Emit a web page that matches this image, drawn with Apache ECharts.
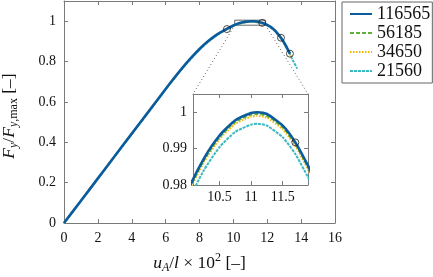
<!DOCTYPE html>
<html><head><meta charset="utf-8">
<script src="https://cdn.jsdelivr.net/npm/echarts@6/dist/echarts.min.js"></script>
<style>html,body{margin:0;padding:0;background:#fff}#c{width:433px;height:277px}</style>
</head><body><div id="c"></div>
<script>
// ---------- data ----------
const seriesNames = ['116565', '56185', '34650', '21560'];
const x116565 = [0,1,2,3,4,5,6,6.5,7,7.5,8,8.5,9,9.5,10,10.25,10.5,10.75,11,11.1,11.25,11.5,11.7,11.9,12,12.2,12.4,12.6,12.81,13,13.2,13.34];
const y116565 = [0,0.11,0.221,0.332,0.443,0.553,0.664,0.718,0.77,0.818,0.862,0.9,0.932,0.957,0.9785,0.9872,0.9936,0.9978,0.9998,1.0,0.9995,0.9963,0.9917,0.9853,0.9815,0.9715,0.958,0.94,0.918,0.893,0.862,0.839];
const x56185 = [0,1,2,3,4,5,6,6.5,7,7.5,8,8.5,9,9.5,10,10.25,10.5,10.75,11,11.1,11.25,11.5,11.7,11.9,12,12.2,12.4,12.6,12.81,13,13.2,13.34];
const y56185 = [0,0.11,0.221,0.332,0.442,0.552,0.663,0.717,0.769,0.817,0.861,0.899,0.931,0.9565,0.978,0.9867,0.9931,0.9973,0.9993,0.9995,0.999,0.9958,0.9912,0.9848,0.981,0.971,0.9575,0.9395,0.9175,0.8925,0.8615,0.8385];
const x34650 = [0,1,2,3,4,5,6,6.5,7,7.5,8,8.5,9,9.5,10,10.25,10.5,10.75,11,11.1,11.25,11.5,11.7,11.9,12,12.2,12.4,12.6,12.81,13,13.2,13.34,13.45];
const y34650 = [0,0.11,0.22,0.331,0.442,0.552,0.663,0.717,0.769,0.817,0.861,0.899,0.931,0.956,0.9775,0.9862,0.9926,0.9968,0.9988,0.999,0.9985,0.9953,0.9907,0.9843,0.9805,0.9705,0.957,0.939,0.917,0.892,0.861,0.838,0.818];
const x21560 = [0,1,2,3,4,5,6,6.5,7,7.5,8,8.5,9,9.5,10,10.25,10.5,10.75,11,11.1,11.25,11.5,11.7,11.9,12,12.2,12.4,12.6,12.81,13,13.2,13.34,13.5,13.77];
const y21560 = [0,0.11,0.22,0.331,0.441,0.551,0.662,0.716,0.768,0.815,0.859,0.897,0.929,0.954,0.9753,0.984,0.9904,0.9946,0.9966,0.9968,0.9963,0.9931,0.9885,0.9821,0.9783,0.9683,0.955,0.937,0.915,0.89,0.859,0.836,0.808,0.765];
const markX = [9.62, 11.70, 12.81, 13.34];
const markY = [0.961, 0.9917, 0.918, 0.839];
const mainXTicks = [0,2,4,6,8,10,12,14,16];
const mainYTicks = [0,0.2,0.4,0.6,0.8,1];
const insetXTicks = [10.5, 11, 11.5];
const insetYTicks = [0.98, 0.99, 1];
const insetXRange = [10.08, 11.9];
const insetYRange = [0.98, 1.005];

// ---------- styles ----------
const colors = ['#0b5c9e', '#5db035', '#f5b400', '#3bb9c3'];
const lineStyles = [
  {width: 2.6, type: 'solid'},
  {width: 1.8, type: [4, 2]},
  {width: 2, type: [1.5, 1.5]},
  {width: 2, type: [3, 1]}
];
const zOrder = [9, 8, 7, 6];
const xs = [x116565, x56185, x34650, x21560];
const ys = [y116565, y56185, y34650, y21560];
const serif = 'Liberation Serif';
const gray = '#7a7a7a';

function pairs(x, y) { return x.map((v, i) => [v, y[i]]); }

function axisBase(extra) {
  return Object.assign({
    type: 'value',
    axisLine: {show: true, onZero: false, lineStyle: {color: gray, width: 1}},
    axisTick: {show: true, inside: true, length: 4, lineStyle: {color: gray}},
    splitLine: {show: false},
    axisLabel: {fontFamily: serif, fontSize: 14, color: '#111'},
    nameMoveOverlap: false
  }, extra);
}

const rich = {
  i: {fontFamily: serif, fontStyle: 'italic', fontSize: 17.5, lineHeight: 22, color: '#111'},
  n: {fontFamily: serif, fontSize: 17.5, lineHeight: 22, color: '#111'},
  si: {fontFamily: serif, fontStyle: 'italic', fontSize: 12, lineHeight: 13, verticalAlign: 'bottom', color: '#111'},
  sn: {fontFamily: serif, fontSize: 12, lineHeight: 13, verticalAlign: 'bottom', color: '#111'},
  sup: {fontFamily: serif, fontSize: 12, lineHeight: 13, verticalAlign: 'top', color: '#111'}
};

const series = [];
seriesNames.forEach((nm, k) => {
  series.push({
    name: nm, type: 'line', xAxisIndex: 0, yAxisIndex: 0,
    data: pairs(xs[k], ys[k]), symbol: 'none', showSymbol: false, smooth: 0.2,
    color: colors[k], lineStyle: Object.assign({color: colors[k]}, lineStyles[k]),
    z: zOrder[k]
  });
});
seriesNames.forEach((nm, k) => {
  series.push({
    name: nm, type: 'line', xAxisIndex: 2, yAxisIndex: 2,
    data: pairs(xs[k], ys[k]), symbol: 'none', showSymbol: false, smooth: 0.2, clip: true,
    color: colors[k], lineStyle: Object.assign({color: colors[k]}, lineStyles[k]),
    z: zOrder[k]
  });
});
// zoom rectangle in main plot
series.push({
  type: 'line', xAxisIndex: 0, yAxisIndex: 0, symbol: 'none', silent: true, z: 2,
  data: [[insetXRange[0], insetYRange[0]], [insetXRange[1], insetYRange[0]], [insetXRange[1], insetYRange[1]],
         [insetXRange[0], insetYRange[1]], [insetXRange[0], insetYRange[0]]],
  lineStyle: {color: '#666', width: 1}
});
// circle markers
const circleStyle = {color: 'rgba(255,255,255,0)', borderColor: '#222', borderWidth: 1};
series.push({type: 'scatter', xAxisIndex: 0, yAxisIndex: 0, symbolSize: 7, data: pairs(markX, markY), itemStyle: circleStyle, z: 12});
series.push({type: 'scatter', xAxisIndex: 2, yAxisIndex: 2, symbolSize: 7, clip: true, data: pairs(markX, markY), itemStyle: circleStyle, z: 12});

const option = {
  animation: false,
  backgroundColor: '#fff',
  grid: [
    {left: 64, top: 1, width: 271, height: 222, show: false, outerBoundsMode: 'none', containLabel: false},
    {left: 193, top: 94, width: 115, height: 91, show: false, outerBoundsMode: 'none', containLabel: false}
  ],
  xAxis: [
    axisBase({gridIndex: 0, position: 'bottom', min: 0, max: 16, interval: 2,
      axisLabel: {fontFamily: serif, fontSize: 14, color: '#111', margin: 8, customValues: mainXTicks},
      axisTick: {show: true, inside: true, length: 4, lineStyle: {color: gray}, customValues: mainXTicks},
      name: '{i|u}{si|A}{n|/}{i|l}{n| × 10}{sup|2}{n| [–]}', nameLocation: 'middle', nameGap: 29,
      nameTextStyle: {rich: rich}}),
    axisBase({gridIndex: 0, position: 'top', min: 0, max: 16, interval: 2, axisLabel: {show: false},
      axisTick: {show: true, inside: true, length: 4, lineStyle: {color: gray}, customValues: mainXTicks}}),
    axisBase({gridIndex: 1, position: 'bottom', min: insetXRange[0], max: insetXRange[1],
      axisLabel: {fontFamily: serif, fontSize: 14, color: '#111', margin: 5, customValues: insetXTicks},
      axisTick: {show: true, inside: true, length: 4, lineStyle: {color: gray}, customValues: insetXTicks}}),
    axisBase({gridIndex: 1, position: 'top', min: insetXRange[0], max: insetXRange[1], axisLabel: {show: false},
      axisTick: {show: true, inside: true, length: 4, lineStyle: {color: gray}, customValues: insetXTicks}})
  ],
  yAxis: [
    axisBase({gridIndex: 0, position: 'left', min: 0, max: 1.1,
      axisLabel: {fontFamily: serif, fontSize: 14, color: '#111', margin: 8, customValues: mainYTicks},
      axisTick: {show: true, inside: true, length: 4, lineStyle: {color: gray}, customValues: mainYTicks},
      name: '{i|F}{si|y}{n|/}{i|F}{si|y}{sn|,max}{n| [–]}', nameLocation: 'middle', nameGap: 44,
      nameTextStyle: {rich: rich, padding: [0, 8, 0, 0]}}),
    axisBase({gridIndex: 0, position: 'right', min: 0, max: 1.1, axisLabel: {show: false},
      axisTick: {show: true, inside: true, length: 4, lineStyle: {color: gray}, customValues: mainYTicks}}),
    axisBase({gridIndex: 1, position: 'left', min: insetYRange[0], max: insetYRange[1],
      axisLabel: {fontFamily: serif, fontSize: 14, color: '#111', margin: 6, customValues: insetYTicks},
      axisTick: {show: true, inside: true, length: 4, lineStyle: {color: gray}, customValues: insetYTicks}}),
    axisBase({gridIndex: 1, position: 'right', min: insetYRange[0], max: insetYRange[1], axisLabel: {show: false},
      axisTick: {show: true, inside: true, length: 4, lineStyle: {color: gray}, customValues: insetYTicks}})
  ],
  legend: {
    data: seriesNames, orient: 'vertical', left: 342, top: 2,
    itemWidth: 22, itemHeight: 14, itemGap: 1, itemTextGap: 5,
    padding: [3, 2, 3, 7], borderColor: '#666', borderWidth: 1, backgroundColor: '#fff',
    itemStyle: {opacity: 0, borderWidth: 0},
    textStyle: {fontFamily: serif, fontSize: 18, lineHeight: 18, color: '#111'},
    selectedMode: false
  },
  series: series
};

const chart = echarts.init(document.getElementById('c'), null, {renderer: 'canvas'});
chart.setOption(option);

// connector dotted lines from zoom box to inset
const a1 = chart.convertToPixel({xAxisIndex: 0, yAxisIndex: 0}, [insetXRange[0], insetYRange[0]]);
const a2 = chart.convertToPixel({xAxisIndex: 0, yAxisIndex: 0}, [insetXRange[1], insetYRange[0]]);
const b1 = chart.convertToPixel({xAxisIndex: 2, yAxisIndex: 2}, [insetXRange[0], insetYRange[1]]);
const b2 = chart.convertToPixel({xAxisIndex: 2, yAxisIndex: 2}, [insetXRange[1], insetYRange[1]]);
chart.setOption({
  graphic: [
    {type: 'line', z: 1, silent: true, shape: {x1: a1[0], y1: a1[1], x2: b1[0], y2: b1[1]}, style: {stroke: '#666', lineWidth: 1, lineDash: [1, 2.5]}},
    {type: 'line', z: 1, silent: true, shape: {x1: a2[0], y1: a2[1], x2: b2[0], y2: b2[1]}, style: {stroke: '#666', lineWidth: 1, lineDash: [1, 2.5]}}
  ]
});
</script>
</body></html>
